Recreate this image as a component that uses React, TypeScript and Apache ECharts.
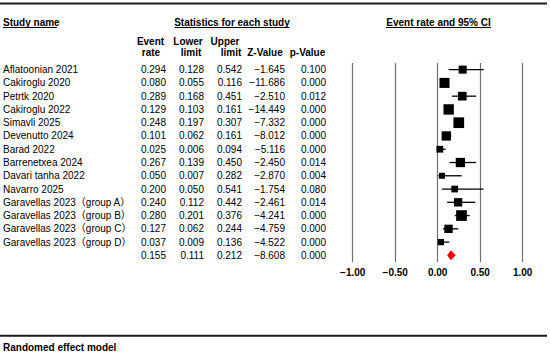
import React, { useEffect, useRef } from "react";
import * as echarts from "echarts";

const studyNames = [
  "Aflatoonian 2021",
  "Cakiroglu 2020",
  "Petrtk 2020",
  "Cakiroglu 2022",
  "Simavli 2025",
  "Devenutto 2024",
  "Barad 2022",
  "Barrenetxea 2024",
  "Davari tanha 2022",
  "Navarro 2025",
  "Garavellas 2023（group A）",
  "Garavellas 2023（group B）",
  "Garavellas 2023（group C）",
  "Garavellas 2023（group D）",
];
const eventRate = [0.294, 0.08, 0.289, 0.129, 0.248, 0.101, 0.025, 0.267, 0.05, 0.2, 0.24, 0.28, 0.127, 0.037];
const lowerLimit = [0.128, 0.055, 0.168, 0.103, 0.197, 0.062, 0.006, 0.139, 0.007, 0.05, 0.112, 0.201, 0.062, 0.009];
const upperLimit = [0.542, 0.116, 0.451, 0.161, 0.307, 0.161, 0.094, 0.45, 0.282, 0.541, 0.442, 0.376, 0.244, 0.136];
const zValue = [-1.645, -11.686, -2.51, -14.449, -7.332, -8.012, -5.116, -2.45, -2.87, -1.754, -2.461, -4.241, -4.759, -4.522];
const pValue = [0.1, 0.0, 0.012, 0.0, 0.0, 0.0, 0.0, 0.014, 0.004, 0.08, 0.014, 0.0, 0.0, 0.0];
// relative study weights (marker size scales with these)
const relWeight = [0.75, 0.94, 0.81, 0.97, 1.0, 0.87, 0.63, 0.87, 0.56, 0.63, 0.78, 1.0, 0.78, 0.59];

const summaryRate = 0.155;
const summaryLower = 0.111;
const summaryUpper = 0.212;
const summaryZ = -8.608;
const summaryP = 0.0;

const xTicks = [-1, -0.5, 0, 0.5, 1];

const FONT = "'Liberation Sans', Arial, 'Noto Sans CJK SC', sans-serif";
const fmt = (v: number, d = 3) => v.toFixed(d).replace("-", "\u2212");

export default function App() {
  const ref = useRef<HTMLDivElement>(null);
  useEffect(() => {
    if (!ref.current) return;
    const chart = echarts.init(ref.current, undefined, { renderer: "svg" });
    const nRows = studyNames.length + 1;
    const rowCats = Array.from({ length: nRows }, (_, i) => String(i));

    const tableRows = studyNames.map((n, i) => [
      n,
      fmt(eventRate[i]),
      fmt(lowerLimit[i]),
      fmt(upperLimit[i]),
      fmt(zValue[i]),
      fmt(pValue[i]),
    ]);
    tableRows.push(["", fmt(summaryRate), fmt(summaryLower), fmt(summaryUpper), fmt(summaryZ), fmt(summaryP)]);

    const colX = [3, 166, 204, 242, 285, 326];
    const colAlign = ["left", "right", "right", "right", "right", "right"];

    const forestData = studyNames.map((_, i) => [eventRate[i], lowerLimit[i], upperLimit[i], i, relWeight[i]]);
    const maxSize = 10.7;

    const headerText = (text: string, x: number, y: number, align = "center") => ({
      type: "text",
      x,
      y,
      style: {
        text,
        fill: "#000",
        font: `bold 10px ${FONT}`,
        textAlign: align,
        textVerticalAlign: "middle",
      },
    });
    const uline = (x1: number, x2: number, y: number) => ({
      type: "line",
      shape: { x1, y1: y, x2, y2: y },
      style: { stroke: "#000", lineWidth: 1 },
    });

    chart.setOption({
      animation: false,
      grid: { left: 352.7, right: 27.3, top: 63, bottom: 91 },
      xAxis: {
        type: "value",
        min: -1,
        max: 1,
        interval: 0.5,
        axisLine: { show: false },
        axisTick: { show: false },
        splitLine: { show: true, lineStyle: { color: "#6e6e6e", width: 1.2 } },
        axisLabel: {
          color: "#000",
          fontWeight: "bold",
          fontSize: 10,
          fontFamily: FONT,
          margin: 5,
          formatter: (v: number) => (xTicks.includes(v) ? fmt(v, 2) : ""),
        },
      },
      yAxis: {
        type: "category",
        data: rowCats,
        inverse: true,
        show: false,
      },
      series: [
        {
          type: "custom",
          clip: false,
          data: tableRows.map((_, i) => [0, i]),
          encode: { x: 0, y: 1 },
          renderItem: (params: any, api: any) => {
            const i = api.value(1);
            const y = api.coord([0, i])[1];
            const row = tableRows[i];
            return {
              type: "group",
              children: row.map((t, c) => ({
                type: "text",
                x: colX[c],
                y,
                style: {
                  text: t,
                  fill: "#000",
                  font: `10px ${FONT}`,
                  textAlign: colAlign[c],
                  textVerticalAlign: "middle",
                },
              })),
            };
          },
        },
        {
          type: "custom",
          clip: false,
          data: forestData,
          encode: { x: [0, 1, 2], y: 3 },
          renderItem: (params: any, api: any) => {
            const c = api.coord([api.value(0), api.value(3)]);
            const lo = api.coord([api.value(1), api.value(3)]);
            const hi = api.coord([api.value(2), api.value(3)]);
            const s = api.value(4) * maxSize;
            return {
              type: "group",
              children: [
                {
                  type: "line",
                  shape: { x1: lo[0], y1: c[1], x2: hi[0], y2: c[1] },
                  style: { stroke: "#000", lineWidth: 1.3 },
                },
                {
                  type: "rect",
                  shape: { x: c[0] - s / 2, y: c[1] - s / 2, width: s, height: s },
                  style: { fill: "#000" },
                },
              ],
            };
          },
        },
        {
          type: "custom",
          clip: false,
          data: [[summaryRate, summaryLower, summaryUpper, studyNames.length]],
          encode: { x: [0, 1, 2], y: 3 },
          renderItem: (params: any, api: any) => {
            const c = api.coord([api.value(0), api.value(3)]);
            const lo = api.coord([api.value(1), api.value(3)]);
            const hi = api.coord([api.value(2), api.value(3)]);
            const h = 5;
            return {
              type: "polygon",
              shape: {
                points: [
                  [lo[0], c[1]],
                  [c[0], c[1] - h],
                  [hi[0], c[1]],
                  [c[0], c[1] + h],
                ],
              },
              style: { fill: "#ff0000" },
            };
          },
        },
      ],
      graphic: [
        { type: "rect", shape: { x: 0, y: 2.5, width: 547, height: 2 }, style: { fill: "#1a1a1a" } },
        headerText("Study name", 3, 22, "left"),
        uline(3, 57, 27.5),
        headerText("Statistics for each study", 232, 22),
        uline(174.5, 289.5, 27.5),
        headerText("Event rate and 95% CI", 438.5, 22),
        uline(386, 491, 27.5),
        headerText("Event", 150.5, 41),
        headerText("rate", 151, 52.5),
        headerText("Lower", 188, 41),
        headerText("limit", 191, 52.5),
        headerText("Upper", 225, 41),
        headerText("limit", 231, 52.5),
        headerText("Z-Value", 265, 52.5),
        headerText("p-Value", 307.5, 52.5),
        { type: "rect", shape: { x: 0, y: 334.8, width: 547, height: 2 }, style: { fill: "#1a1a1a" } },
        headerText("Randomed effect model", 3, 347.5, "left"),
      ],
    });
    return () => chart.dispose();
  }, []);
  return (
    <div
      ref={ref}
      style={{ position: "fixed", left: 0, top: 0, width: 550, height: 353, background: "#fff" }}
    />
  );
}
